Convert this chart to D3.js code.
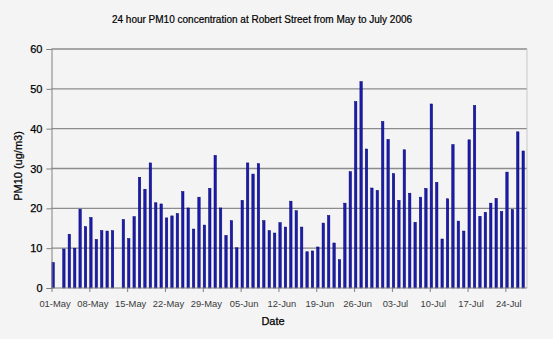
<!DOCTYPE html>
<html><head><meta charset="utf-8">
<script src="https://cdn.jsdelivr.net/npm/d3@7"></script>
<style>body{margin:0;background:#f4f4f4;}svg{display:block;font-family:"Liberation Sans",Arial,sans-serif;}</style>
</head><body><svg id="c" width="553" height="339"></svg>
<script>
const startDate = "2006-05-01";
// daily PM10 values from 01-May to 27-Jul 2006 (null = no data)
const pm10 = [6.4,null,9.8,13.5,10,19.8,15.4,17.7,12.2,14.4,14.3,14.4,null,17.2,12.4,17.9,27.8,24.8,31.4,21.4,21.1,17.6,18.1,18.7,24.2,20.1,14.8,22.8,15.8,25,
33.3,20.1,13.2,16.9,10.1,22,31.4,28.6,31.2,16.9,14.4,13.8,16.4,15.3,21.8,19.4,15.3,9.1,9.3,10.3,16.3,18.2,11.3,7.1,21.3,29.2,46.8,51.8,34.9,
25.1,24.5,41.8,37.3,28.7,22,34.7,23.8,16.5,22.8,25,46.2,26.5,12.3,22.4,36,16.8,14.3,37.2,45.8,18,19,21.3,22.5,19.2,29.1,19.7,39.2,34.4];
const yTicks = [0,10,20,30,40,50,60];
const xTickLabels = ["01-May","08-May","15-May","22-May","29-May","05-Jun","12-Jun","19-Jun","26-Jun","03-Jul","10-Jul","17-Jul","24-Jul"];

const parse = d3.timeParse("%Y-%m-%d");
const d0 = parse(startDate);
const data = pm10.map((v,i)=>({date:d3.timeDay.offset(d0,i), v}));
const svg = d3.select("#c");
const L=51.5, R=527, T=49, B=288;
const x = d3.scaleTime().domain([d0, d3.timeDay.offset(d0,88)]).range([L,R]);
const y = d3.scaleLinear().domain([0,60]).range([B,T]);
const FONT = "Liberation Sans, Arial, sans-serif";

svg.append("rect").attr("width",553).attr("height",339).attr("fill","#f4f4f4");

// gridlines
svg.append("g").selectAll("line").data(yTicks.filter(t=>t>0)).join("line")
  .attr("x1",L).attr("x2",R).attr("y1",d=>y(d)).attr("y2",d=>y(d))
  .attr("stroke","#8c8c8c").attr("stroke-width",1.3);
// right border
svg.append("line").attr("x1",R).attr("x2",R).attr("y1",T).attr("y2",B).attr("stroke","#c8c8c8").attr("stroke-width",1);

// bars
const bw = 2.4;
svg.append("g").selectAll("rect").data(data.filter(d=>d.v!=null)).join("rect")
  .attr("x",d=>x(d.date)+0.4).attr("width",bw)
  .attr("y",d=>y(d.v)).attr("height",d=>B-y(d.v))
  .attr("fill","#1c1caa").attr("stroke","#000070").attr("stroke-width",0.5);

// y axis
const yAxis = d3.axisLeft(y).tickValues(yTicks).tickSize(5).tickPadding(4);
const gy = svg.append("g").attr("transform",`translate(${L},0)`).call(yAxis);
gy.select(".domain").attr("stroke","#808080");
gy.selectAll(".tick line").attr("stroke","#808080");
gy.selectAll("text").attr("font-size",11).attr("fill","#000").attr("font-family",FONT)
  .attr("stroke","#000").attr("stroke-width",0.25);

// x axis
const tickDates = xTickLabels.map((_,i)=>d3.timeDay.offset(d0,i*7));
const xAxis = d3.axisBottom(x).tickValues(tickDates).tickFormat((d,i)=>xTickLabels[i]).tickSize(4).tickPadding(8);
const gx = svg.append("g").attr("transform",`translate(0,${B})`).call(xAxis);
gx.select(".domain").attr("stroke","#808080").attr("d",`M${L},0H${R}`);
gx.selectAll(".tick line").attr("stroke","#808080");
gx.selectAll("text").attr("font-size",9.4).attr("fill","#3a3a3a").attr("font-family",FONT).attr("dx",3);

// titles
svg.append("text").attr("x",262).attr("y",22.5).attr("text-anchor","middle")
  .attr("font-size",10).attr("fill","#000").attr("stroke","#000").attr("stroke-width",0.2)
  .text("24 hour PM10 concentration at Robert Street from May to July 2006");
svg.append("text").attr("x",273).attr("y",325).attr("text-anchor","middle")
  .attr("font-size",11).attr("fill","#000").attr("stroke","#000").attr("stroke-width",0.25).text("Date");
svg.append("text").attr("transform","translate(22,166) rotate(-90)").attr("text-anchor","middle")
  .attr("font-size",11).attr("fill","#000").attr("stroke","#000").attr("stroke-width",0.25).text("PM10 (ug/m3)");
</script></body></html>
